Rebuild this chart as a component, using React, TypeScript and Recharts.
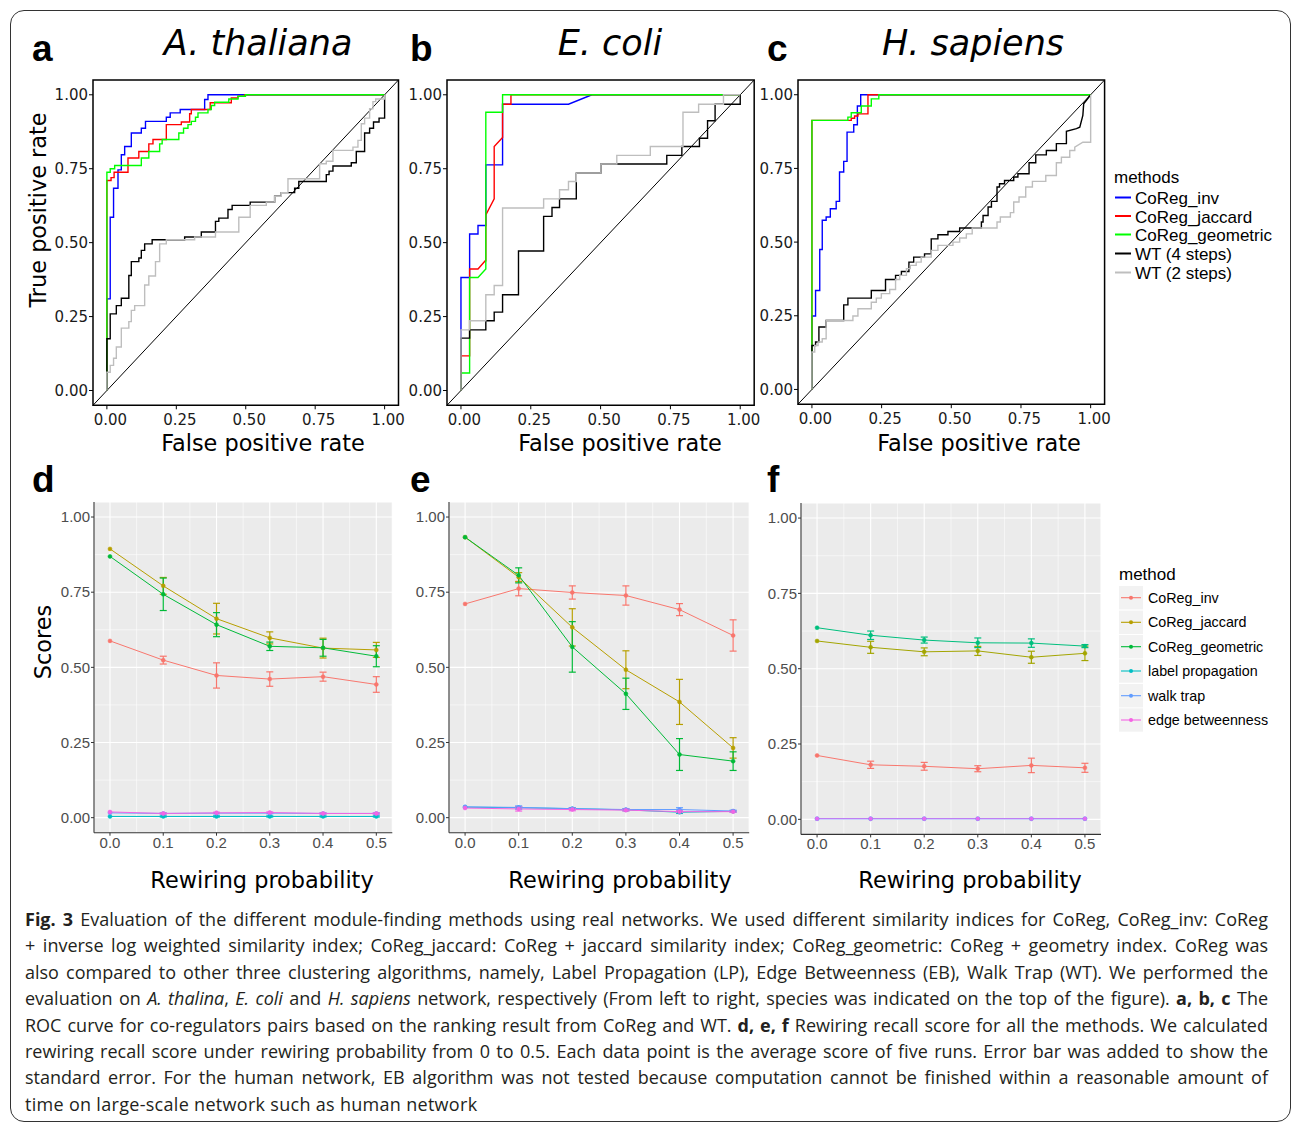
import React from "react";
import {
  LineChart,
  Line,
  XAxis,
  YAxis,
  CartesianGrid,
  ReferenceLine,
  ReferenceArea,
  ErrorBar,
} from "recharts";

// ROC curves: each entry is a jump point [fpr, tpr]; the curve moves right then up.
// A third item of 1 means a straight (tied scores) segment to that point.
const A_INV = [[0, 0.31], [0.012, 0.586], [0.024, 0.684], [0.04, 0.746], [0.052, 0.797], [0.064, 0.825], [0.088, 0.871], [0.124, 0.887], [0.139, 0.91], [0.214, 0.924], [0.228, 0.939], [0.264, 0.95], [0.352, 0.984], [0.364, 1], [1, 1]];
const A_JAC = [[0, 0.71], [0.015, 0.72], [0.026, 0.738], [0.076, 0.786], [0.115, 0.808], [0.151, 0.834], [0.166, 0.849], [0.214, 0.899], [0.268, 0.908], [0.298, 0.936], [0.304, 0.95], [0.372, 0.973], [0.448, 0.989], [0.472, 0.995], [0.496, 1], [1, 1]];
const A_GEO = [[0, 0.738], [0.012, 0.75], [0.028, 0.761], [0.124, 0.786], [0.151, 0.808], [0.19, 0.834], [0.199, 0.849], [0.259, 0.871], [0.276, 0.887], [0.292, 0.899], [0.304, 0.91], [0.319, 0.924], [0.328, 0.939], [0.364, 0.95], [0.376, 0.964], [0.388, 0.975], [0.439, 0.986], [0.472, 0.995], [0.499, 1], [1, 1]];
const A_WT4 = [[0, 0.175], [0.012, 0.259], [0.034, 0.287], [0.052, 0.312], [0.079, 0.389], [0.088, 0.436], [0.115, 0.448], [0.124, 0.474], [0.136, 0.496], [0.163, 0.51], [0.28, 0.519], [0.34, 0.536], [0.391, 0.572], [0.403, 0.583], [0.436, 0.612], [0.451, 0.626], [0.516, 0.637], [0.604, 0.657], [0.628, 0.669], [0.676, 0.684], [0.691, 0.707], [0.79, 0.73], [0.8, 0.742], [0.814, 0.759], [0.88, 0.77], [0.898, 0.808], [0.928, 0.871], [0.946, 0.887], [0.96, 0.908], [0.98, 0.921], [1, 1]];
const A_WT2 = [[0, 0.062], [0.012, 0.085], [0.024, 0.109], [0.034, 0.147], [0.052, 0.211], [0.079, 0.233], [0.088, 0.271], [0.1, 0.287], [0.136, 0.357], [0.151, 0.387], [0.175, 0.436], [0.19, 0.496], [0.214, 0.51], [0.316, 0.519], [0.391, 0.536], [0.475, 0.586], [0.516, 0.626], [0.574, 0.637], [0.604, 0.657], [0.628, 0.669], [0.652, 0.716], [0.766, 0.767], [0.79, 0.775], [0.814, 0.812], [0.886, 0.823], [0.904, 0.846], [0.916, 0.902], [0.928, 0.921], [0.946, 0.953], [0.958, 0.977], [0.968, 0.986], [1, 1]];

const B_INV = [[0, 0.382], [0.031, 0.529], [0.061, 0.558], [0.089, 0.763], [0.149, 0.968], [0.385, 0.968], [0.469, 1, 1], [1, 1]];
const B_JAC = [[0, 0.117], [0.031, 0.411], [0.061, 0.411], [0.087, 0.439, 1], [0.089, 0.594], [0.119, 0.648, 1], [0.119, 0.825], [0.149, 0.856, 1], [0.149, 0.968], [0.179, 1], [1, 1]];
const B_GEO = [[0, 0.059], [0.031, 0.382], [0.061, 0.382], [0.089, 0.411, 1], [0.089, 0.941], [0.149, 1], [1, 1]];
const B_WT4 = [[0, 0.177], [0.031, 0.205], [0.089, 0.236], [0.119, 0.265], [0.149, 0.324], [0.206, 0.472], [0.296, 0.589], [0.326, 0.619], [0.353, 0.648], [0.413, 0.735], [0.501, 0.766], [0.737, 0.795], [0.791, 0.825], [0.854, 0.853], [0.883, 0.912], [0.91, 0.968], [1, 1]];
const B_WT2 = [[0, 0.205], [0.031, 0.236], [0.089, 0.324], [0.119, 0.355], [0.149, 0.617], [0.296, 0.648], [0.353, 0.679], [0.385, 0.707], [0.413, 0.735], [0.501, 0.766], [0.558, 0.795], [0.678, 0.825], [0.795, 0.941], [0.851, 0.968], [0.94, 1], [1, 1]];

const C_INV = [[0, 0.249], [0.013, 0.336], [0.028, 0.475], [0.037, 0.574], [0.051, 0.585], [0.066, 0.613], [0.087, 0.638], [0.099, 0.738], [0.114, 0.774], [0.126, 0.873], [0.15, 0.898], [0.163, 0.962], [0.175, 1], [1, 1]];
const C_JAC = [[0, 0.913], [0.129, 0.913], [0.141, 0.92], [0.153, 0.928], [0.165, 0.935], [0.201, 1], [1, 1]];
const C_GEO = [[0, 0.913], [0.129, 0.924], [0.141, 0.939], [0.177, 0.962], [0.213, 0.986], [0.24, 1], [1, 1]];
const C_WT4 = [[0, 0.149], [0.013, 0.161], [0.025, 0.212], [0.051, 0.234], [0.114, 0.287], [0.129, 0.31], [0.213, 0.336], [0.264, 0.373], [0.3, 0.387], [0.321, 0.4], [0.348, 0.432], [0.365, 0.449], [0.404, 0.46], [0.428, 0.511], [0.452, 0.525], [0.488, 0.536], [0.53, 0.548], [0.587, 0.548], [0.608, 0.568], [0.614, 0.59], [0.632, 0.619], [0.644, 0.638], [0.664, 0.687], [0.673, 0.698], [0.691, 0.709], [0.724, 0.721], [0.739, 0.732], [0.779, 0.769], [0.803, 0.796], [0.841, 0.811], [0.877, 0.834], [0.913, 0.876], [0.949, 0.885, 1], [0.961, 0.89, 1], [0.972, 0.93, 1], [0.975, 0.969, 1], [1, 1, 1]];
const C_WT2 = [[0, 0.127], [0.01, 0.149], [0.022, 0.161], [0.037, 0.172], [0.051, 0.234], [0.147, 0.249], [0.165, 0.274], [0.213, 0.296], [0.231, 0.31], [0.249, 0.325], [0.279, 0.339], [0.3, 0.373], [0.315, 0.387], [0.339, 0.41], [0.353, 0.421], [0.374, 0.432], [0.392, 0.449], [0.428, 0.472], [0.452, 0.489], [0.506, 0.5], [0.53, 0.514], [0.554, 0.528], [0.575, 0.548], [0.664, 0.568], [0.676, 0.585], [0.712, 0.6], [0.724, 0.636], [0.743, 0.653], [0.767, 0.687], [0.791, 0.706], [0.839, 0.726], [0.877, 0.769], [0.895, 0.788], [0.925, 0.811], [0.943, 0.822], [0.972, 0.839, 1], [1, 0.839], [1, 1]];

const ROC_METHODS = ["CoReg_inv", "CoReg_jaccard", "CoReg_geometric", "WT (4 steps)", "WT (2 steps)"];
const ROC_COLORS = ["#0000FF", "#FF0000", "#00FF00", "#000000", "#BEBEBE"];
const RATE_TICKS = [0, 0.25, 0.5, 0.75, 1];

// rewiring recall scores (mean and standard error of five runs)
const PROB = [0, 0.1, 0.2, 0.3, 0.4, 0.5];

const D_INV = [0.588, 0.524, 0.473, 0.461, 0.469, 0.443];
const D_INV_SE = [0, 0.013, 0.042, 0.024, 0.015, 0.026];
const D_JAC = [0.894, 0.771, 0.662, 0.598, 0.564, 0.558];
const D_JAC_SE = [0, 0.028, 0.051, 0.02, 0.033, 0.025];
const D_GEO = [0.869, 0.743, 0.642, 0.57, 0.565, 0.537];
const D_GEO_SE = [0, 0.054, 0.04, 0.014, 0.028, 0.035];
const D_LP = [0.004, 0.004, 0.004, 0.004, 0.004, 0.004];
const D_WT = [0.016, 0.014, 0.015, 0.015, 0.014, 0.014];
const D_EB = [0.019, 0.014, 0.016, 0.017, 0.014, 0.014];
const D_SMALL_SE = [0, 0.002, 0.002, 0.002, 0.002, 0.002];

const E_INV = [0.711, 0.762, 0.749, 0.739, 0.692, 0.606];
const E_INV_SE = [0, 0.024, 0.022, 0.032, 0.02, 0.052];
const E_JAC = [0.933, 0.8, 0.633, 0.492, 0.385, 0.232];
const E_JAC_SE = [0, 0.015, 0.062, 0.063, 0.075, 0.034];
const E_GEO = [0.933, 0.806, 0.568, 0.412, 0.21, 0.188];
const E_GEO_SE = [0, 0.025, 0.084, 0.052, 0.053, 0.031];
const E_LP = [0.035, 0.033, 0.03, 0.026, 0.018, 0.021];
const E_LP_SE = [0, 0.004, 0.003, 0.003, 0.004, 0.002];
const E_WT = [0.036, 0.034, 0.03, 0.027, 0.027, 0.022];
const E_WT_SE = [0, 0.005, 0.003, 0.003, 0.006, 0.003];
const E_EB = [0.032, 0.029, 0.027, 0.025, 0.02, 0.02];
const E_EB_SE = [0, 0.007, 0.004, 0.003, 0.003, 0.002];

const F_INV = [0.212, 0.181, 0.176, 0.168, 0.179, 0.171];
const F_INV_SE = [0, 0.012, 0.013, 0.01, 0.024, 0.015];
const F_JAC = [0.592, 0.571, 0.556, 0.559, 0.538, 0.551];
const F_JAC_SE = [0, 0.02, 0.013, 0.015, 0.02, 0.024];
const F_GEO = [0.636, 0.611, 0.595, 0.586, 0.585, 0.575];
const F_GEO_SE = [0, 0.014, 0.01, 0.016, 0.014, 0.005];
const F_LP = [0.002, 0.002, 0.002, 0.002, 0.002, 0.002];
const F_WT = [0.002, 0.002, 0.002, 0.002, 0.002, 0.002];
const F_ZERO_SE = [0, 0, 0, 0, 0, 0];

const SCORE_METHODS = ["CoReg_inv", "CoReg_jaccard", "CoReg_geometric", "label propagation", "walk trap", "edge betweenness"];
const HUE6 = ["#F8766D", "#B79F00", "#00BA38", "#00BFC4", "#619CFF", "#F564E3"];
const HUE5 = ["#F8766D", "#A3A500", "#00BF7D", "#00B0F6", "#E76BF3"];
const SCORE_TICKS = [0, 0.25, 0.5, 0.75, 1];
const SCORE_MINOR = [0.125, 0.375, 0.625, 0.875];
const PROB_MINOR = [0.05, 0.15, 0.25, 0.35, 0.45];

const DEJAVU = "'DejaVu Sans', sans-serif";
const ARIAL = "'Liberation Sans', Arial, sans-serif";

// turn jump points into the corners of the stair path
function toPath(pts: number[][]) {
  const out = [{ fpr: 0, tpr: 0 }];
  let prev = 0;
  for (const [x, y, diag] of pts) {
    if (!diag) out.push({ fpr: x, tpr: prev });
    out.push({ fpr: x, tpr: y });
    prev = y;
  }
  return out;
}

function makeTick(font: string, size: number, fill: string, digits: number, dx: number, dy: number) {
  return (props: any) => (
    <text
      x={props.x + dx}
      y={props.y + dy}
      textAnchor={props.textAnchor}
      fontFamily={font}
      fontSize={size}
      fill={fill}
    >
      {Number(props.payload.value).toFixed(digits)}
    </text>
  );
}

type Box = { x: number; y: number; w: number; h: number };

function RocPanel({ box, curves }: { box: Box; curves: number[][][] }) {
  const YW = 70, XH = 40, MT = 4, MR = 24;
  return (
    <div style={{ position: "absolute", left: box.x - YW, top: box.y - MT }}>
      <LineChart
        width={box.w + YW + MR}
        height={box.h + MT + XH}
        margin={{ top: MT, right: MR, left: 0, bottom: 0 }}
      >
        <XAxis
          type="number"
          dataKey="fpr"
          domain={[-0.05, 1.05]}
          ticks={RATE_TICKS}
          interval={0}
          allowDataOverflow
          height={XH}
          axisLine={false}
          tickSize={4}
          tickMargin={2}
          tickLine={{ stroke: "#000", strokeWidth: 1 }}
          tick={makeTick(DEJAVU, 15, "#1a1a1a", 2, 3.5, 14)}
        />
        <YAxis
          type="number"
          domain={[-0.05, 1.05]}
          ticks={RATE_TICKS}
          interval={0}
          allowDataOverflow
          width={YW}
          axisLine={false}
          tickSize={4}
          tickMargin={1}
          tickLine={{ stroke: "#000", strokeWidth: 1 }}
          tick={makeTick(DEJAVU, 15, "#1a1a1a", 2, 0, 5.5)}
        />
        <ReferenceLine
          segment={[{ x: -0.05, y: -0.05 }, { x: 1.05, y: 1.05 }]}
          stroke="#000"
          strokeWidth={1}
          ifOverflow="visible"
        />
        {curves.map((c, i) => (
          <Line
            key={i}
            data={toPath(c)}
            dataKey="tpr"
            type="linear"
            stroke={ROC_COLORS[i]}
            strokeWidth={1.4}
            dot={false}
            activeDot={false}
            isAnimationActive={false}
          />
        ))}
        <ReferenceArea
          x1={-0.05}
          x2={1.05}
          y1={-0.05}
          y2={1.05}
          fill="none"
          stroke="#000"
          strokeWidth={1.5}
          ifOverflow="visible"
        />
      </LineChart>
    </div>
  );
}

function ScorePanel({ box, vals, ses, colors }: { box: Box; vals: number[][]; ses: number[][]; colors: string[] }) {
  const YW = 60, XH = 40, MT = 4, MR = 10;
  const rows = PROB.map((p, i) => {
    const r: any = { p };
    vals.forEach((v, k) => {
      r["s" + k] = v[i];
      r["e" + k] = ses[k][i];
    });
    return r;
  });
  return (
    <div style={{ position: "absolute", left: box.x - YW, top: box.y - MT }}>
      <LineChart
        width={box.w + YW + MR}
        height={box.h + MT + XH}
        data={rows}
        margin={{ top: MT, right: MR, left: 0, bottom: 0 }}
      >
        <CartesianGrid fill="#EBEBEB" fillOpacity={1} stroke="#FFFFFF" strokeWidth={1.1} />
        {SCORE_MINOR.map((v) => (
          <ReferenceLine key={"h" + v} y={v} stroke="#FFFFFF" strokeWidth={0.55} />
        ))}
        {PROB_MINOR.map((v) => (
          <ReferenceLine key={"v" + v} x={v} stroke="#FFFFFF" strokeWidth={0.55} />
        ))}
        <XAxis
          type="number"
          dataKey="p"
          domain={[-0.03, 0.53]}
          ticks={PROB}
          interval={0}
          allowDataOverflow
          height={XH}
          tickSize={3}
          tickMargin={2}
          axisLine={{ stroke: "#333333", strokeWidth: 1.1 }}
          tickLine={{ stroke: "#333333" }}
          tick={makeTick(ARIAL, 15, "#4D4D4D", 1, 0, 10)}
        />
        <YAxis
          type="number"
          domain={[-0.05, 1.05]}
          ticks={SCORE_TICKS}
          interval={0}
          allowDataOverflow
          width={YW}
          tickSize={3}
          tickMargin={1}
          axisLine={{ stroke: "#333333", strokeWidth: 1.1 }}
          tickLine={{ stroke: "#333333" }}
          tick={makeTick(ARIAL, 15, "#4D4D4D", 2, 0, 5.3)}
        />
        {vals.map((_, k) => (
          <Line
            key={k}
            dataKey={"s" + k}
            type="linear"
            stroke={colors[k]}
            strokeWidth={1}
            dot={{ r: 2, fill: colors[k], stroke: colors[k], strokeWidth: 0.5 }}
            activeDot={false}
            isAnimationActive={false}
          >
            <ErrorBar dataKey={"e" + k} direction="y" width={3.5} stroke={colors[k]} strokeWidth={1.2} />
          </Line>
        ))}
      </LineChart>
    </div>
  );
}

const CAPTION: React.ReactNode[] = [
  <><b>Fig. 3</b> Evaluation of the different module-finding methods using real networks. We used different similarity indices for CoReg, CoReg_inv: CoReg</>,
  <>+ inverse log weighted similarity index; CoReg_jaccard: CoReg + jaccard similarity index; CoReg_geometric: CoReg + geometry index. CoReg was</>,
  <>also compared to other three clustering algorithms, namely, Label Propagation (LP), Edge Betweenness (EB), Walk Trap (WT). We performed the</>,
  <>evaluation on <i>A. thalina</i>, <i>E. coli</i> and <i>H. sapiens</i> network, respectively (From left to right, species was indicated on the top of the figure). <b>a, b, c</b> The</>,
  <>ROC curve for co-regulators pairs based on the ranking result from CoReg and WT. <b>d, e, f</b> Rewiring recall score for all the methods. We calculated</>,
  <>rewiring recall score under rewiring probability from 0 to 0.5. Each data point is the average score of five runs. Error bar was added to show the</>,
  <>standard error. For the human network, EB algorithm was not tested because computation cannot be finished within a reasonable amount of</>,
  <>time on large-scale network such as human network</>,
];

function Overlay() {
  const letter = { fontFamily: ARIAL, fontWeight: 700, fontSize: 37, fill: "#000" } as const;
  const title = { fontFamily: DEJAVU, fontStyle: "italic", fontSize: 35, fill: "#000" } as const;
  const axisTitle = { fontFamily: DEJAVU, fontSize: 22.4, fill: "#000" } as const;
  const rocRows = [204, 222.5, 241, 260, 279];
  const scoreRows = [597.7, 622.3, 646.7, 671, 695.7, 720];
  return (
    <svg width={1292} height={1124} style={{ position: "absolute", left: 0, top: 0 }}>
      <text x={32} y={61} {...letter}>a</text>
      <text x={410} y={61} {...letter}>b</text>
      <text x={767} y={61} {...letter}>c</text>
      <text x={32} y={492} {...letter}>d</text>
      <text x={410} y={492} {...letter}>e</text>
      <text x={767} y={492} {...letter}>f</text>

      <text x={258} y={55} textAnchor="middle" {...title}>A. thaliana</text>
      <text x={610} y={55} textAnchor="middle" {...title}>E. coli</text>
      <text x={973} y={55} textAnchor="middle" {...title}>H. sapiens</text>

      <text transform="translate(46,210) rotate(-90)" textAnchor="middle" {...axisTitle}>True positive rate</text>
      <text x={263} y={451} textAnchor="middle" {...axisTitle}>False positive rate</text>
      <text x={620} y={451} textAnchor="middle" {...axisTitle}>False positive rate</text>
      <text x={979} y={451} textAnchor="middle" {...axisTitle}>False positive rate</text>

      <text transform="translate(51,642) rotate(-90)" textAnchor="middle" {...axisTitle}>Scores</text>
      <text x={262} y={888} textAnchor="middle" {...axisTitle}>Rewiring probability</text>
      <text x={620} y={888} textAnchor="middle" {...axisTitle}>Rewiring probability</text>
      <text x={970} y={888} textAnchor="middle" {...axisTitle}>Rewiring probability</text>

      {/* legend of the ROC panels */}
      <text x={1114} y={183} fontFamily={ARIAL} fontSize={17} fill="#000">methods</text>
      {ROC_METHODS.map((m, i) => (
        <g key={m}>
          <line x1={1115} x2={1131} y1={rocRows[i] - 6.5} y2={rocRows[i] - 6.5} stroke={ROC_COLORS[i]} strokeWidth={2} />
          <text x={1135} y={rocRows[i]} fontFamily={ARIAL} fontSize={17} fill="#000">{m}</text>
        </g>
      ))}

      {/* legend of the score panels */}
      <text x={1119} y={580} fontFamily={ARIAL} fontSize={17} fill="#000">method</text>
      {SCORE_METHODS.map((m, i) => (
        <g key={m}>
          <rect x={1119} y={scoreRows[i] - 11.7} width={24} height={23.4} fill="#F2F2F2" />
          <line x1={1121} x2={1141} y1={scoreRows[i]} y2={scoreRows[i]} stroke={HUE6[i]} strokeWidth={1.1} />
          <circle cx={1131} cy={scoreRows[i]} r={2} fill={HUE6[i]} />
          <text x={1148} y={scoreRows[i] + 5} fontFamily={ARIAL} fontSize={14.3} fill="#000">{m}</text>
        </g>
      ))}
    </svg>
  );
}

export default function App() {
  return (
    <div
      style={{
        position: "absolute",
        left: 0,
        top: 0,
        width: 1292,
        height: 1124,
        background: "#fff",
        overflow: "hidden",
      }}
    >
      <div
        style={{
          position: "absolute",
          left: 10,
          top: 10,
          width: 1281,
          height: 1112,
          border: "1.5px solid #333",
          borderRadius: 14,
          boxSizing: "border-box",
        }}
      />
      <Overlay />

      <RocPanel box={{ x: 93.4, y: 79.5, w: 305.5, h: 325.3 }} curves={[A_INV, A_JAC, A_GEO, A_WT4, A_WT2]} />
      <RocPanel box={{ x: 446.7, y: 80.2, w: 307.2, h: 325.3 }} curves={[B_INV, B_JAC, B_GEO, B_WT4, B_WT2]} />
      <RocPanel box={{ x: 798.4, y: 79.6, w: 306.6, h: 324.2 }} curves={[C_INV, C_JAC, C_GEO, C_WT4, C_WT2]} />

      <ScorePanel
        box={{ x: 94.3, y: 501.7, w: 298.3, h: 330.7 }}
        vals={[D_INV, D_JAC, D_GEO, D_LP, D_WT, D_EB]}
        ses={[D_INV_SE, D_JAC_SE, D_GEO_SE, D_SMALL_SE, D_SMALL_SE, D_SMALL_SE]}
        colors={HUE6}
      />
      <ScorePanel
        box={{ x: 449.3, y: 501.7, w: 300.2, h: 330.7 }}
        vals={[E_INV, E_JAC, E_GEO, E_LP, E_WT, E_EB]}
        ses={[E_INV_SE, E_JAC_SE, E_GEO_SE, E_LP_SE, E_WT_SE, E_EB_SE]}
        colors={HUE6}
      />
      <ScorePanel
        box={{ x: 801, y: 502.6, w: 300, h: 331.4 }}
        vals={[F_INV, F_JAC, F_GEO, F_LP, F_WT]}
        ses={[F_INV_SE, F_JAC_SE, F_GEO_SE, F_ZERO_SE, F_ZERO_SE]}
        colors={HUE5}
      />

      <div
        style={{
          position: "absolute",
          left: 25,
          top: 906,
          width: 1243,
          fontFamily: "'Open Sans', sans-serif",
          fontSize: 18,
          lineHeight: "26.4px",
          color: "#231f20",
        }}
      >
        {CAPTION.map((l, i) => (
          <div
            key={i}
            style={{
              whiteSpace: "nowrap",
              textAlign: i < 7 ? "justify" : "left",
              textAlignLast: i < 7 ? "justify" : "left",
              letterSpacing: i < 7 ? 0 : 0.3,
            }}
          >
            {l}
          </div>
        ))}
      </div>
    </div>
  );
}
